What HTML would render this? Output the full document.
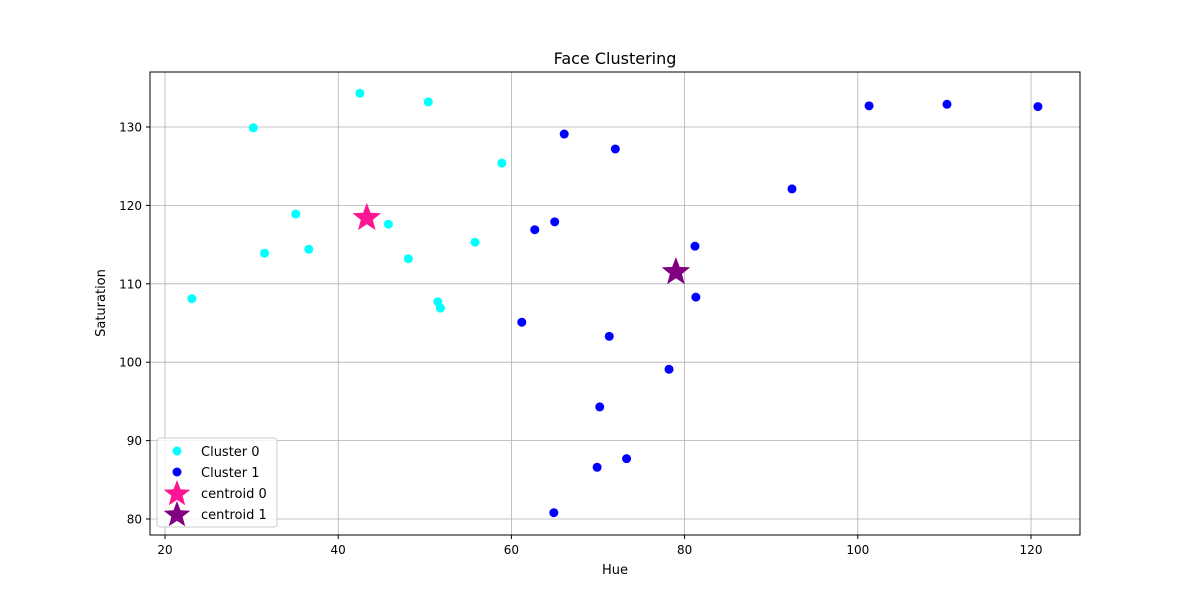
<!DOCTYPE html>
<html><head><meta charset="utf-8"><style>
body{margin:0;background:#fff;font-family:"Liberation Sans","DejaVu Sans",sans-serif}
svg text{font-family:"DejaVu Sans","Liberation Sans",sans-serif}
</style></head><body>
<svg id="chart" width="1200" height="600" xmlns="http://www.w3.org/2000/svg">
<rect width="1200" height="600" fill="#fff"/>
<g id="grid"></g>
<g id="marks"></g>
<rect x="150" y="72" width="930" height="463" fill="none" stroke="#000" stroke-width="1"/>
<g id="ticks"></g>
<text x="615" y="64" text-anchor="middle" font-size="16">Face Clustering</text>
<text x="615" y="574" text-anchor="middle" font-size="13">Hue</text>
<text transform="translate(105,303) rotate(-90)" text-anchor="middle" font-size="13">Saturation</text>
<g>
<rect x="157" y="438" width="120" height="89" rx="3" fill="#fff" fill-opacity="0.8" stroke="#ccc"/>
<circle cx="177" cy="451" r="4.5" fill="#00ffff"/>
<text x="201" y="456" font-size="13">Cluster 0</text>
<circle cx="177" cy="472" r="4.5" fill="#0000ff"/>
<text x="201" y="477" font-size="13">Cluster 1</text>
<g id="legstars"></g>
<text x="201" y="498" font-size="13">centroid 0</text>
<text x="201" y="519" font-size="13">centroid 1</text>
</g>
</svg>
<script>
const xTicks=[20,40,60,80,100,120];
const yTicks=[80,90,100,110,120,130];
const c0x=[23.1,30.2,31.5,35.1,36.6,42.5,45.8,48.1,50.4,51.5,51.8,55.8,58.9];
const c0y=[108.1,129.9,113.9,118.9,114.4,134.3,117.6,113.2,133.2,107.7,106.9,115.3,125.4];
const c1x=[66.1,72.0,62.7,65.0,61.2,71.3,70.2,69.9,73.3,64.9,78.2,81.2,81.3,92.4,101.3,110.3,120.8];
const c1y=[129.1,127.2,116.9,117.9,105.1,103.3,94.3,86.6,87.7,80.8,99.1,114.8,108.3,122.1,132.7,132.9,132.6];
const centX=[43.3,79.0];
const centY=[118.4,111.5];
const centColors=["#ff1493","#800080"];
const X=v=>165+(v-20)*8.66;
const Y=v=>519-(v-80)*7.84;
const NS="http://www.w3.org/2000/svg";
function mk(tag,attrs,parent){const e=document.createElementNS(NS,tag);for(const k in attrs)e.setAttribute(k,attrs[k]);parent.appendChild(e);return e;}
const grid=document.getElementById('grid'),ticks=document.getElementById('ticks'),marks=document.getElementById('marks');
xTicks.forEach(t=>{const x=X(t);
 const g=mk('line',{x1:x,x2:x,y1:72,y2:535,stroke:'#b0b0b0','stroke-width':0.8},grid);
 
 
 mk('line',{x1:x,x2:x,y1:535,y2:539,stroke:'#000'},ticks);
 const l=mk('text',{x:x,y:554,'text-anchor':'middle','font-size':12},ticks);l.textContent=t;
 
 });
yTicks.forEach(t=>{const y=Y(t);
 const g=mk('line',{x1:150,x2:1080,y1:y,y2:y,stroke:'#b0b0b0','stroke-width':0.8},grid);
 
 
 mk('line',{x1:146,x2:150,y1:y,y2:y,stroke:'#000'},ticks);
 const l=mk('text',{x:142,y:y+4.5,'text-anchor':'end','font-size':12},ticks);l.textContent=t;
 
 });
c0x.forEach((v,i)=>{const c=mk('circle',{cx:X(v),cy:Y(c0y[i]),r:4.5,fill:'#00ffff'},marks);
 
 });
c1x.forEach((v,i)=>{const c=mk('circle',{cx:X(v),cy:Y(c1y[i]),r:4.5,fill:'#0000ff'},marks);
 
 });
function star(cx,cy,R,col,parent){const r=R*0.42;let p=[];for(let k=0;k<10;k++){const a=-Math.PI/2+k*Math.PI/5;const rr=k%2?r:R;p.push((cx+rr*Math.cos(a)).toFixed(1)+','+(cy+rr*Math.sin(a)).toFixed(1));}
 return mk('polygon',{points:p.join(' '),fill:col},parent);}
centX.forEach((v,i)=>{const s=star(X(v),Y(centY[i]),15,centColors[i],marks);
 
 });
const ls=document.getElementById('legstars');
[0,1].forEach(i=>{const s=star(177,494+i*21,14,centColors[i],ls);
 
 });
</script>
</body></html>
